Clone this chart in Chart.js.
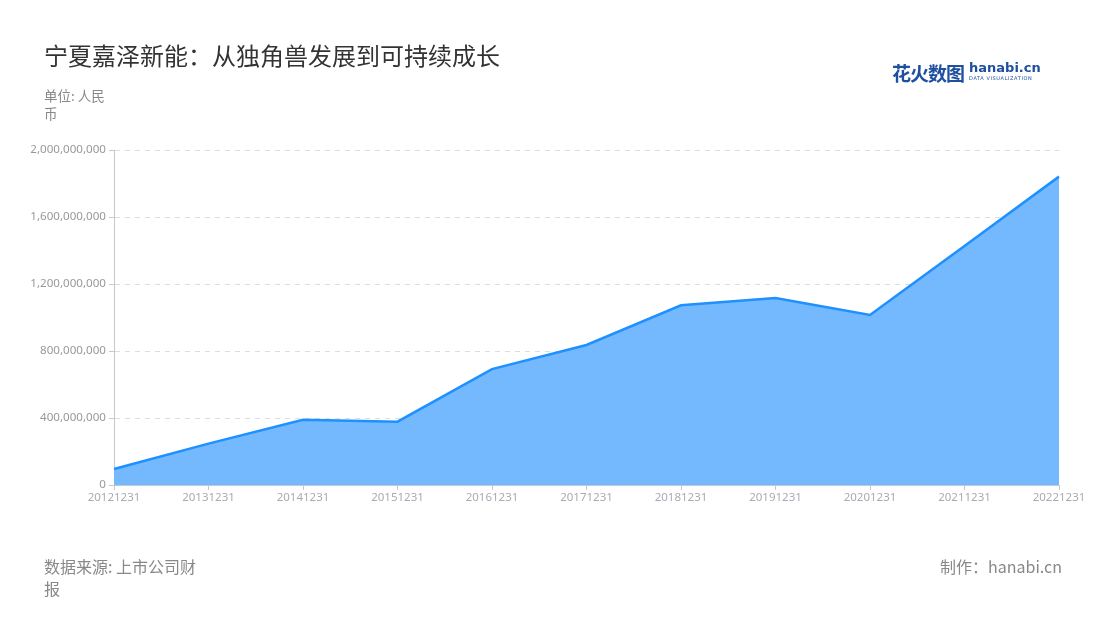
<!DOCTYPE html>
<html><head><meta charset="utf-8">
<script src="https://cdn.jsdelivr.net/npm/chart.js@4"></script>
<style>
html,body{margin:0;padding:0;background:#fff;}
#wrap{position:relative;width:1100px;height:620px;overflow:hidden;font-family:"Noto Sans CJK SC","Noto Sans",sans-serif;}
canvas{position:absolute;left:0;top:0;}
.t{position:absolute;white-space:nowrap;}
#title{left:44px;top:37px;font-size:24px;color:#333;}
#unit{left:44px;top:86px;font-size:13.5px;color:#888;width:72px;white-space:normal;line-height:18px;}
#src{left:44px;top:555px;font-size:16px;color:#888;width:160px;white-space:normal;line-height:22px;}
#made{right:38px;top:555px;font-size:16px;color:#888;line-height:22px;}
#logo{left:892px;top:59px;}
#logo .cn{font-size:19px;font-weight:bold;color:#1f4fa0;letter-spacing:-1px;vertical-align:top;}
#logo .en{display:inline-block;vertical-align:top;margin-left:5px;margin-top:2px;}
#logo .en b{display:block;font-family:"DejaVu Sans",sans-serif;font-size:13px;color:#1f4fa0;line-height:13px;font-weight:bold;}
#logo .en i{display:block;font-style:normal;font-family:"DejaVu Sans",sans-serif;font-size:5px;color:#1f4fa0;letter-spacing:0.6px;line-height:8px;}
</style></head>
<body><div id="wrap">
<canvas id="c" width="1100" height="620"></canvas>
<div class="t" id="title">宁夏嘉泽新能：从独角兽发展到可持续成长</div>
<div class="t" id="unit">单位: 人民币</div>
<div class="t" id="logo"><span class="cn">花火数图</span><span class="en"><b>hanabi.cn</b><i>DATA VISUALIZATION</i></span></div>
<div class="t" id="src">数据来源: 上市公司财报</div>
<div class="t" id="made">制作：hanabi.cn</div>
</div>
<script>
const categories = ["20121231","20131231","20141231","20151231","20161231","20171231","20181231","20191231","20201231","20211231","20221231"];
const revenue = [96000000, 247000000, 390000000, 378000000, 692000000, 836000000, 1073000000, 1116000000, 1015000000, 1427000000, 1841000000];
const yTicks = [0, 400000000, 800000000, 1200000000, 1600000000, 2000000000];

new Chart(document.getElementById('c'), {
  type: 'line',
  data: {
    labels: categories,
    datasets: [{
      data: revenue,
      borderColor: '#1e90ff',
      borderWidth: 2.5,
      backgroundColor: '#74b9fe',
      fill: 'origin',
      pointRadius: 0,
      pointHoverRadius: 0,
      tension: 0
    }]
  },
  options: {
    responsive: false,
    animation: false,
    events: [],
    layout: { padding: { left: 20, right: 41, top: 150, bottom: 105 } },
    plugins: { legend: { display: false }, tooltip: { enabled: false } },
    scales: {
      x: {
        offset: false,
        afterFit: s => { s.height = 30; },
        grid: { drawOnChartArea: false, drawTicks: true, tickLength: 5, tickColor: '#c8c8c8' },
        border: { display: true, color: '#c8c8c8', width: 1 },
        ticks: { color: '#a8abb3', font: { family: 'Noto Sans', size: 11.5 }, maxRotation: 0, autoSkip: false, padding: 1 }
      },
      y: {
        min: 0, max: 2000000000,
        afterFit: s => { s.width = 94; },
        afterBuildTicks: s => { s.ticks = yTicks.map(v => ({ value: v })); },
        grid: { color: '#dedede', lineWidth: 1, tickLength: 5, tickColor: '#c8c8c8' },
        border: { display: true, color: '#c8c8c8', width: 1, dash: [5, 5] },
        ticks: { color: '#999', font: { family: 'Noto Sans', size: 11.6 }, padding: 3,
          callback: v => Number(v).toLocaleString('en-US') }
      }
    }
  }
});
</script>
</body></html>
